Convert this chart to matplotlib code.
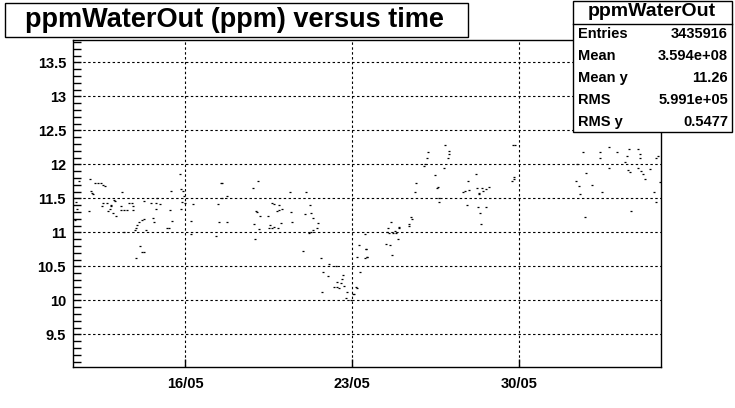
"""ppmWaterOut (ppm) versus time, ROOT style."""

import matplotlib

matplotlib.use("Agg")
import matplotlib.dates as mdates
import matplotlib.pyplot as plt
import numpy as np
from matplotlib.patches import Rectangle

# day of May (fractional) and ppm values
DAYS = [
    11.42, 11.49, 11.38, 11.55,
    11.96, 12.01, 12.05, 12.12, 12.16, 12.23, 12.37, 12.47, 12.58, 12.65,
    12.52, 12.58, 12.75, 12.77, 12.84, 12.91, 12.91, 13.00, 13.03, 13.05,
    13.12, 13.30, 13.30, 13.37, 13.44, 13.44, 13.58, 13.65, 13.79, 13.82,
    13.83, 13.89, 13.93, 13.95, 14.00, 14.07, 14.10, 14.18, 14.21, 14.28,
    14.28, 14.28, 14.35, 14.59, 14.66, 14.70, 14.77, 14.77, 14.84, 14.95,
    15.23, 15.33, 15.37, 15.40, 15.44, 15.78, 15.85, 15.85, 15.89, 15.92,
    15.96, 15.99, 16.24, 16.26, 16.33, 17.31, 17.38, 17.42, 17.52,
    17.53, 17.53, 17.77, 17.77, 18.83, 18.89, 18.93, 18.97, 19.00, 19.04,
    19.11, 19.14, 19.46, 19.53, 19.56, 19.63, 19.63, 19.73, 19.74, 19.84,
    19.91, 19.95, 19.95, 20.01, 20.05, 20.38, 20.43, 20.47, 20.96, 21.03,
    21.07, 21.21, 21.23, 21.26, 21.26, 21.35, 21.37, 21.54, 21.58, 21.68,
    21.72, 21.79, 22.00, 22.04, 22.25, 22.32, 22.35, 22.38, 22.45, 22.52,
    22.56, 22.60, 22.66, 22.74, 22.77, 22.95, 23.05, 23.08, 23.16, 23.19,
    23.22, 23.30, 23.33, 23.54, 23.54, 23.57, 23.64,
    23.58, 23.61, 24.42, 24.45, 24.49, 24.56, 24.58, 24.63, 24.67, 24.70,
    24.81, 24.84, 24.91, 24.98, 24.98, 25.37, 25.39, 25.46, 25.49, 25.63,
    25.67, 26.02, 26.06, 26.12, 26.16, 26.46, 26.55, 26.58, 26.62, 26.65,
    26.83, 26.89, 27.00, 27.04, 27.07, 27.63, 27.73, 27.80, 27.84, 27.88,
    28.19, 28.23, 28.26, 28.30, 28.33, 28.35, 28.40, 28.42, 28.47, 28.61,
    28.61, 28.72, 29.69, 29.72, 29.78,
    29.76, 29.83, 32.37, 32.41, 32.48, 32.55, 32.65, 32.73, 32.79, 33.04,
    33.39, 33.39, 33.46, 33.74, 33.77, 34.09, 34.44, 34.51, 34.53, 34.58,
    34.65, 34.69, 34.97, 34.97, 35.04, 35.06, 35.11, 35.16, 35.25, 35.48,
    35.65, 35.72, 35.72, 35.79, 35.90,
]
PPM = [
    11.45, 11.34, 11.18, 11.75,
    11.32, 11.78, 11.61, 11.58, 11.56, 11.72, 11.73, 11.73, 11.70, 11.68,
    11.39, 11.43, 11.43, 11.32, 11.34, 11.41, 11.39, 11.28, 11.48, 11.46,
    11.24, 11.39, 11.33, 11.60, 11.33, 11.01, 11.33, 11.43, 11.43, 11.33,
    11.39, 11.04, 11.07, 10.62, 11.11, 11.16, 10.80, 10.71, 11.18, 11.19,
    11.46, 10.71, 11.04, 11.43, 11.21, 11.16, 11.43, 11.35, 11.51, 11.42,
    11.07, 11.06, 11.33, 11.61, 11.17, 11.86, 11.64, 11.35, 11.45, 11.61,
    11.53, 11.43, 10.98, 11.17, 11.42, 10.95, 11.42, 11.15, 11.72,
    11.72, 11.51, 11.54, 11.16, 11.65, 11.13, 10.91, 11.32, 11.30, 11.75,
    11.05, 11.24, 11.24, 11.06, 11.11, 11.43, 11.07, 11.08, 11.42, 11.31,
    11.06, 11.41, 11.33, 11.14, 11.34, 11.59, 11.30, 11.15, 10.72, 11.27,
    11.59, 10.99, 11.41, 11.29, 11.01, 11.03, 11.21, 11.07, 11.14, 10.63,
    10.13, 10.42, 10.36, 10.53, 10.19, 10.50, 10.20, 10.27, 10.18, 10.25,
    10.31, 10.37, 10.21, 10.03, 10.13, 10.01, 10.10, 10.09, 10.20, 10.64,
    10.18, 10.82, 10.42, 10.98, 10.63, 10.75, 10.64,
    10.76, 10.64, 10.83, 11.01, 11.06, 10.99, 10.81, 11.15, 10.67, 10.99,
    11.02, 10.99, 10.90, 11.08, 11.06, 11.13, 11.09, 11.23, 11.19, 11.59,
    11.73, 11.98, 12.01, 12.09, 12.18, 11.85, 11.65, 11.67, 11.45, 11.51,
    11.94, 12.28, 12.10, 12.19, 12.15, 11.59, 11.61, 11.40, 11.76, 11.62,
    11.86, 11.65, 11.37, 11.56, 11.58, 11.28, 11.13, 11.66, 11.61, 11.64,
    11.38, 11.67, 11.75, 12.28, 11.81,
    11.79, 12.28, 11.75, 12.01, 11.68, 11.56, 12.18, 11.23, 11.88, 11.70,
    12.18, 12.10, 11.59, 11.94, 12.26, 12.18, 12.04, 12.12, 11.92, 12.22,
    11.89, 11.32, 12.22, 11.94, 12.16, 12.09, 11.91, 11.86, 11.78, 11.93,
    11.60, 11.44, 12.10, 12.12, 11.74,
]
TICK_DAYS = [16, 23, 30]
STAT_NAMES = ["Entries", "Mean", "Mean y", "RMS", "RMS y"]
STAT_VALUES = ["3435916", "3.594e+08", "11.26", "5.991e+05", "0.5477"]

W, H = 735, 408
FONT = "Liberation Sans"


def fx(px):
    return px / W


def fy(py):
    return 1 - py / H


base = mdates.date2num(np.datetime64("2008-05-01"))
x = base + np.array(DAYS) - 1
ticks = base + np.array(TICK_DAYS) - 1

fig = plt.figure(figsize=(W / 100, H / 100), dpi=100)
ax = fig.add_axes([fx(73), fy(367), fx(661) - fx(73), fy(40) - fy(367)])

ax.plot(x, PPM, linestyle="none", marker="_", ms=2.0, mew=0.9, color="black")

ax.set_xlim(base + 11.31 - 1, base + 35.93 - 1)
ax.set_ylim(9.02, 13.83)
ax.set_xticks(ticks)
ax.xaxis.set_major_formatter(mdates.DateFormatter("%d/%m"))
ax.set_yticks(np.arange(9.5, 13.51, 0.5))
ax.set_yticklabels(["9.5", "10", "10.5", "11", "11.5", "12", "12.5", "13", "13.5"])
ax.set_yticks(np.arange(9.1, 13.81, 0.1), minor=True)
ax.tick_params(axis="both", which="major", direction="in", length=6, width=1,
               labelsize=10.5, pad=5)
ax.tick_params(axis="y", which="minor", direction="in", length=6, width=1)
ax.tick_params(axis="x", which="major", pad=7)
for lab in ax.get_xticklabels() + ax.get_yticklabels():
    lab.set_fontfamily(FONT)
    lab.set_fontweight("bold")
ax.grid(True, which="major", color="black", linestyle=(0, (2.2, 2.2)), linewidth=0.8)
for sp in ax.spines.values():
    sp.set_linewidth(1)

# title box
fig.patches.append(Rectangle((fx(5), fy(37)), fx(468) - fx(5), fy(3) - fy(37),
                             transform=fig.transFigure, fill=False, lw=1, ec="black"))
fig.text(fx(234), fy(20), "ppmWaterOut (ppm) versus time", ha="center", va="center",
         fontsize=19.5, fontweight="bold", family=FONT)

# stats box
fig.patches.append(Rectangle((fx(573), fy(132)), fx(732) - fx(573), fy(1) - fy(132),
                             transform=fig.transFigure, fc="white", lw=1, ec="black"))
fig.lines.append(plt.Line2D([fx(573), fx(732)], [fy(24), fy(24)],
                            transform=fig.transFigure, color="black", lw=1))
fig.text(fx(652), fy(12), "ppmWaterOut", ha="center", va="center",
         fontsize=14, fontweight="bold", family=FONT)
for i, (name, val) in enumerate(zip(STAT_NAMES, STAT_VALUES)):
    yy = 34 + i * 22
    fig.text(fx(578), fy(yy), name, ha="left", va="center",
             fontsize=10.5, fontweight="bold", family=FONT)
    fig.text(fx(728), fy(yy), val, ha="right", va="center",
             fontsize=10.5, fontweight="bold", family=FONT)

fig.savefig("out.png", dpi=100, facecolor="white")
